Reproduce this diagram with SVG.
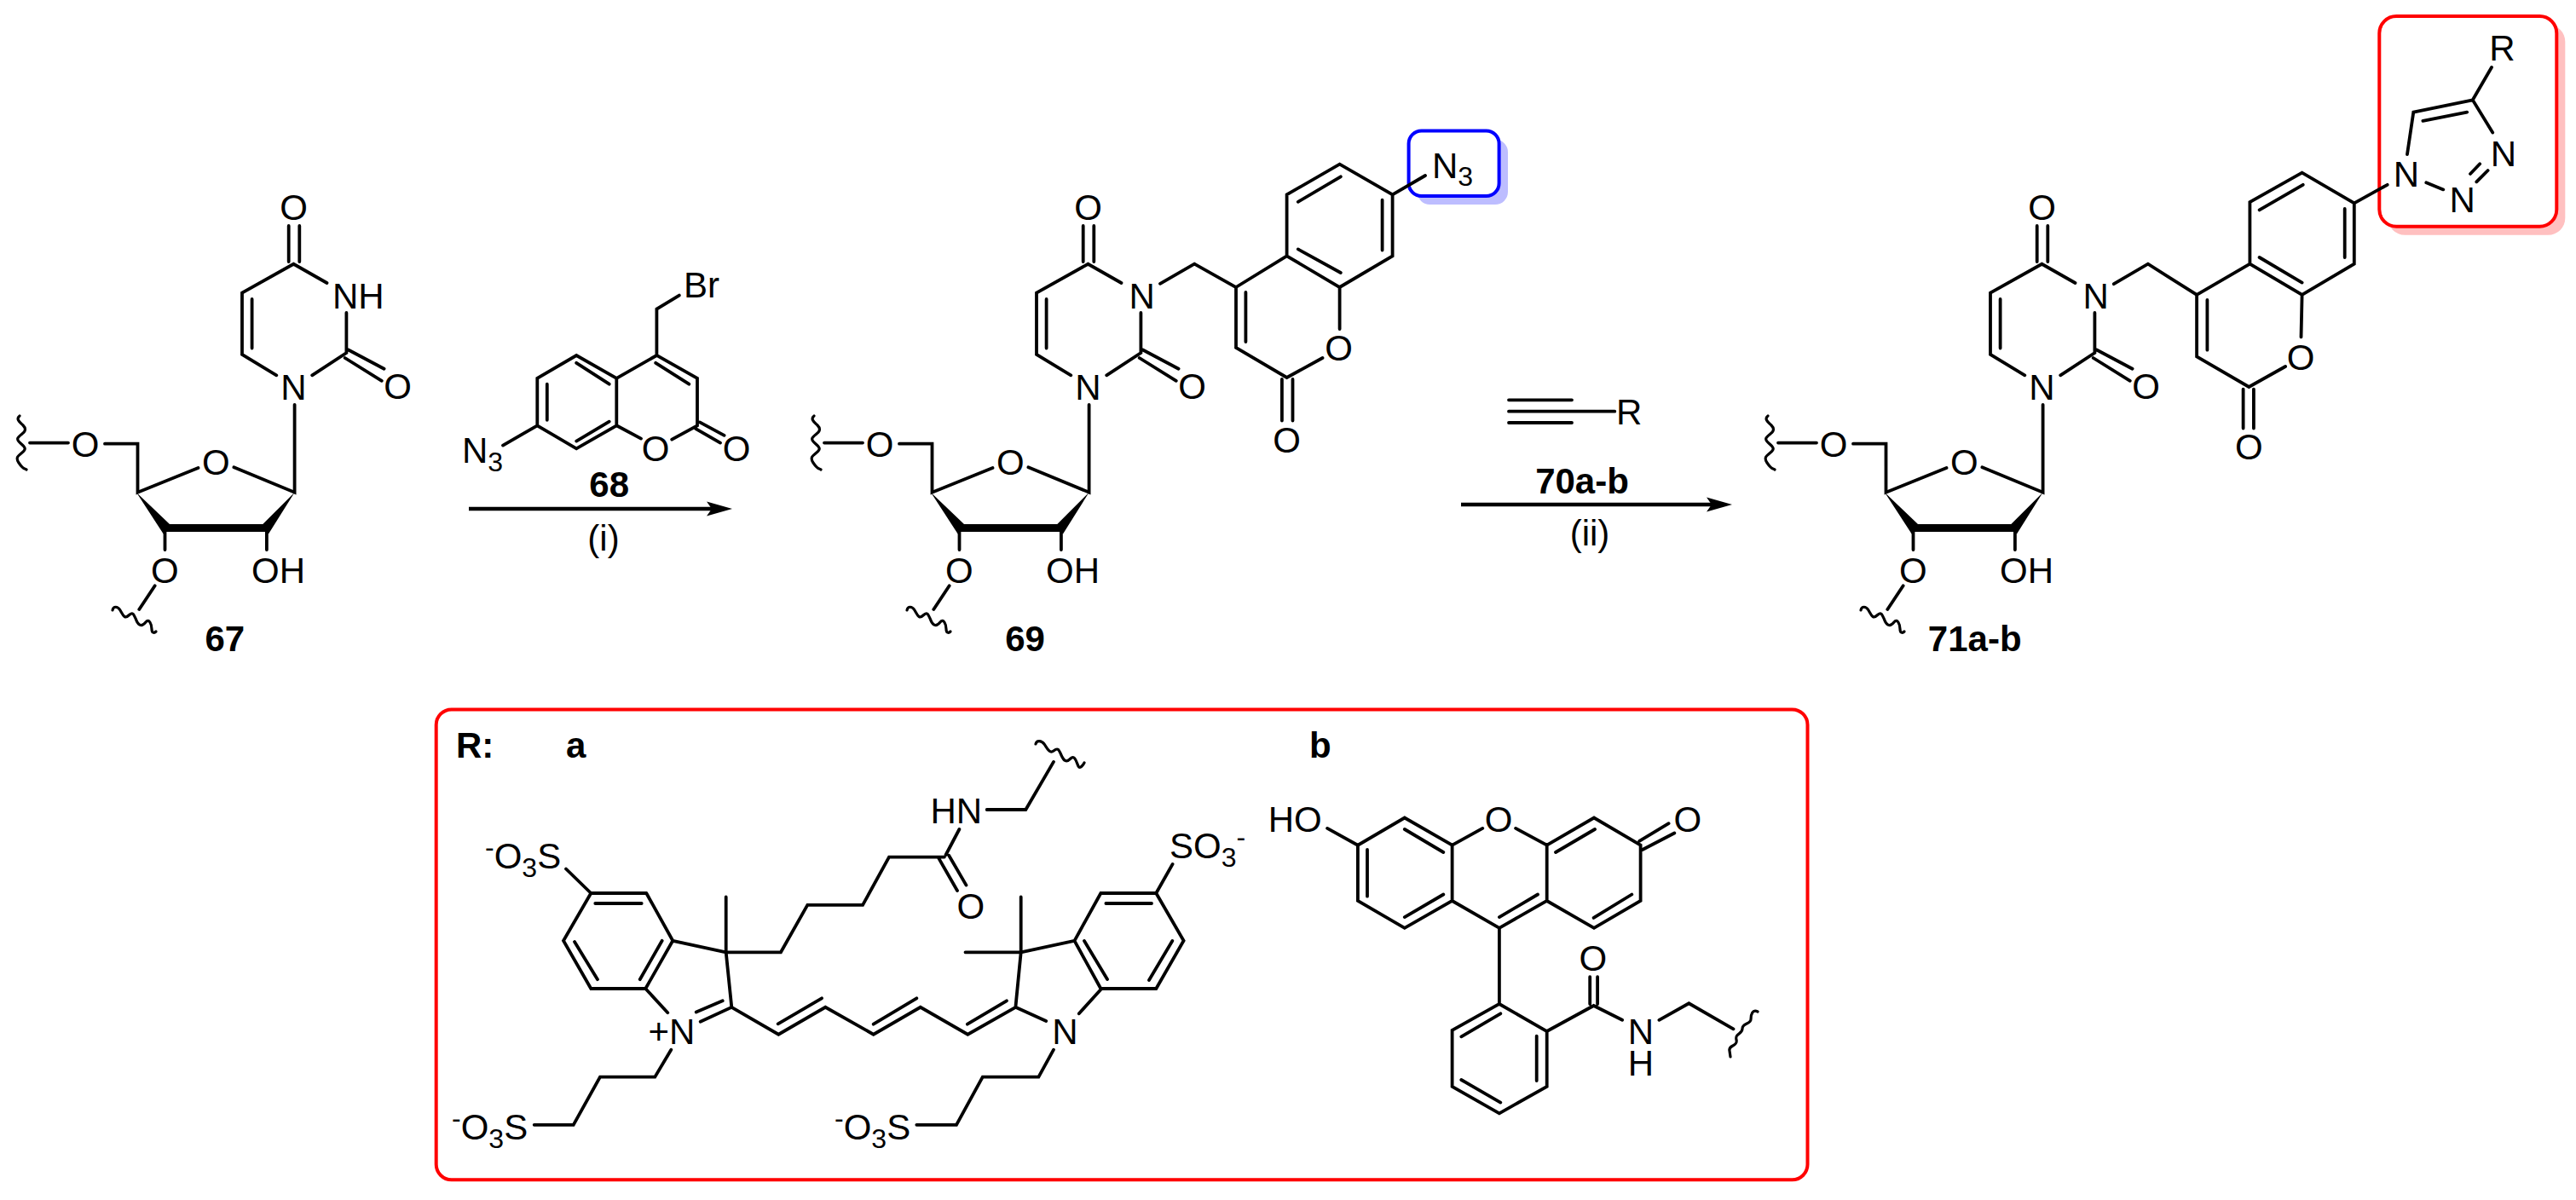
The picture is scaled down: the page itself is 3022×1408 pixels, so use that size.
<svg xmlns="http://www.w3.org/2000/svg" width="3022" height="1408" viewBox="0 0 3022 1408">
<style>
text{font-family:"Liberation Sans",Arial,sans-serif;font-size:42px;fill:#000}
.m{text-anchor:middle}
.b{font-weight:bold}
.s{font-size:32px}
.bond{fill:none;stroke:#000;stroke-width:3.8;stroke-linecap:round;stroke-linejoin:miter}
.wave{fill:none;stroke:#000;stroke-width:3.2;stroke-linecap:round;stroke-linejoin:round}
.solid{fill:#000;stroke:none}
.arrow{fill:none;stroke:#000;stroke-width:4.5}
.red{fill:none;stroke:#f00;stroke-width:4}
</style>
<defs>
<marker id="head" markerUnits="userSpaceOnUse" markerWidth="30" markerHeight="18" viewBox="0 0 30 18" refX="20" refY="9" orient="auto"><path d="M0 .5L30 9L0 17.5L6 9Z" fill="#000"/></marker>
<path id="nuc-bonds" class="bond" d="M338.7 265V307M351.3 265V307M383.5 332L344.4 309.8L284 343.5V416L324.3 440.3M295.6 351V408.6M366.2 440.3L406.4 414V367M408.7 410.5L450.6 432.7M404.7 420L447.8 446.8M345.6 474.8V577.7L274.4 548.3M232.5 549L161.5 577.7V520.7H123M35 519.6H80M193.5 623V645M312.9 623V645M181.7 687.3L163.3 715"/>
<path id="nuc-solid" class="solid" d="M160 577.7L199 615H308.3L345.6 577.7L315 626.5L312 624H195L191.7 626.5Z"/>
<path id="nuc-wave1" class="wave" d="M23 488C18 492 24 496 27 499S31 505 26 509S18 515 24 520S31 527 26 531S18 537 22 543S27 549 31 551"/>
<path id="nuc-wave2" class="wave" d="M132 716C133 711 138 711 141 716S146 727 151 722S157 721 160 728S167 735 171 730S178 733 178 738S181 743 183 741"/>
</defs>

<g id="compound-67">
<use href="#nuc-bonds"/><use href="#nuc-solid"/><use href="#nuc-wave1"/><use href="#nuc-wave2"/>
<text class="m" x="344.5" y="258">O</text>
<text x="390" y="361.5">NH</text>
<text class="m" x="344.5" y="469">N</text>
<text class="m" x="466.7" y="468">O</text>
<text class="m" x="253.3" y="557">O</text>
<text class="m" x="100" y="536">O</text>
<text class="m" x="193.3" y="683.5">O</text>
<text x="295" y="683.5">OH</text>
<text class="m b" x="263.8" y="764">67</text>
</g>

<g id="compound-68">
<path class="bond" d="M796.8 346.6L770.4 362.6V417L818 443.8V499.3L788.2 515.7M752 514.6L723.3 499.3V443.8L676.2 417L630.3 443.8V499.3L676.2 526.4L723.3 499.3M723.3 443.8L770.4 417M769.2 425.8L808.3 450.7M676.2 425.8L714.7 450.7M641.8 450.7V492.8M676.2 517.6L714.7 494.7M630.3 499.3L590 522.6M820.9 495.4L849.6 510.8M816.3 503.1L845 519.6"/>
<text x="802" y="349.3">Br</text>
<text x="542" y="542.5">N<tspan class="s" dy="10">3</tspan></text>
<text class="m" x="769.2" y="541.4">O</text>
<text class="m" x="864" y="541.4">O</text>
<text class="m b" x="714.7" y="582.7">68</text>
<text class="m" x="708" y="646">(i)</text>
</g>

<g id="compound-69">
<g transform="translate(932 0)">
<use href="#nuc-bonds"/><use href="#nuc-solid"/><use href="#nuc-wave1"/><use href="#nuc-wave2"/>
<text class="m" x="344.5" y="258">O</text>
<text class="m" x="407.7" y="361.5">N</text>
<text class="m" x="344.5" y="469">N</text>
<text class="m" x="466.7" y="468">O</text>
<text class="m" x="253.3" y="557">O</text>
<text class="m" x="100" y="536">O</text>
<text class="m" x="193.3" y="683.5">O</text>
<text x="295" y="683.5">OH</text>
<text class="m b" x="270.5" y="764">69</text>
</g>
<rect x="1662.6" y="163.5" width="106.4" height="76.6" rx="15" fill="#bdbdff"/>
<rect x="1652.6" y="153.5" width="106" height="76.6" rx="15" fill="#fff" stroke="#00f" stroke-width="4"/>
<path class="bond" d="M1361 332.8L1401.2 309.6L1450 337V408L1509.6 443L1551.5 420M1571.6 386V337L1509.6 300.4V228.4L1571.6 192.6L1633.6 228.4V300.4L1571.6 337M1509.6 300.4L1450 337M1461.4 343V401M1522.8 236.8L1572.8 207.3M1621.6 234.7V293.6M1522.8 292.4L1572.8 320M1503.9 445V493.5M1516.5 445V493.5M1633.6 228.4L1672 206"/>
<text x="1680" y="209.4">N<tspan class="s" dy="9">3</tspan></text>
<text class="m" x="1570.5" y="422.8">O</text>
<text class="m" x="1509.6" y="531.4">O</text>
</g>

<g id="compound-70">
<path class="bond" d="M1770 469.3H1844M1770 482.7H1894.3M1770 496H1844"/>
<text x="1896" y="498.3">R</text>
<text class="m b" x="1856" y="579.3">70a-b</text>
<text class="m" x="1865" y="640">(ii)</text>
</g>

<g id="compound-71">
<g transform="translate(2051 0)">
<use href="#nuc-bonds"/><use href="#nuc-solid"/><use href="#nuc-wave1"/><use href="#nuc-wave2"/>
<text class="m" x="344.5" y="258">O</text>
<text class="m" x="407.7" y="361.5">N</text>
<text class="m" x="344.5" y="469">N</text>
<text class="m" x="466.7" y="468">O</text>
<text class="m" x="253.3" y="557">O</text>
<text class="m" x="100" y="536">O</text>
<text class="m" x="193.3" y="683.5">O</text>
<text x="295" y="683.5">OH</text>
</g>
<text class="m b" x="2316.7" y="763.8">71a-b</text>
<rect x="2801.3" y="29" width="208" height="246.8" rx="20" fill="#ffc0c0"/>
<rect x="2791.3" y="19" width="208" height="246.8" rx="20" fill="#fff" stroke="#f00" stroke-width="4"/>
<path class="bond" d="M2479.8 333.2L2519.9 309.7L2577.1 345.9V418.4L2638.3 454L2681.1 430M2699.5 395.4L2700.6 345.9L2639.4 309.7V237.2L2700.6 202.6L2761.8 238.3V309.7L2700.6 345.9M2639.4 309.7L2577.1 345.9M2589.4 352V410.7M2650.6 246.4L2701.7 216.8M2750.7 245V302M2650.6 302L2700.6 331.6M2631.6 456.6V502.6M2643.9 456.6V502.6M2761.8 238.3L2800.7 216.8M2824 181L2831.3 131.6L2900.8 117.3L2924.2 155.6M2842.4 141.8L2894.2 131.6M2900.8 117.3L2923 79M2846.3 214.3L2866.3 222.4M2898 204L2909.2 192.3M2905.3 213.3L2918.6 200"/>
<text class="m" x="2823" y="219.4">N</text>
<text class="m" x="2888.6" y="248.5">N</text>
<text class="m" x="2937" y="194.9">N</text>
<text class="m" x="2935.3" y="71.4">R</text>
<text class="m" x="2699" y="433.7">O</text>
<text class="m" x="2638.3" y="539">O</text>
</g>

<g id="substituents">
<rect class="red" x="511.7" y="832.4" width="1608.8" height="551.9" rx="18"/>
<text class="b" x="535" y="888.6">R:</text>
<text class="b" x="664" y="888.6">a</text>
<text class="b" x="1536" y="888.6">b</text>
</g>

<g id="substituent-a">
<path class="bond" d="M758.3 1048H693.3L661 1103.8L693.3 1160H757.3L789.3 1103.8L758.3 1048M698.3 1060H752.7M674 1105L701 1149.2M776.7 1103.8L750.7 1149.2M664 1019.5L693.3 1048M789.3 1103.8L851.7 1117.3M851.7 1052.5V1117.3L858.3 1181.8M851.7 1117.3H916L947.3 1061.9H1012.1L1043 1005.6H1107.9M757.3 1160L783.3 1188.2M821.7 1198.7L858.3 1181.8L913.3 1213.7L968.3 1181.8L1024.7 1213.7L1079.8 1181.8L1135.3 1213.7L1191.4 1181.8M816.7 1187.5L847.7 1174.3M912.7 1201.3L964 1171.3M1024.7 1201.7L1075.3 1171.3M1134.9 1201.7L1180.9 1174.3M787.3 1231.7L768.3 1263.6H704L672.7 1319.8H626.7M1125.4 973L1109.6 1003M1100.9 1006.4L1123 1045M1113.2 1003.7L1133.5 1038.6M1157.7 950H1203.3L1236 893.9M1132.5 1117.3H1197.7M1197.7 1052.5V1117.3L1191.4 1181.8M1197.7 1117.3L1260.5 1103.8L1291.4 1048H1356.3L1388.6 1103.8L1356.3 1160H1291.4L1260.5 1103.8M1297.4 1060H1351M1375.3 1104L1348 1150M1272 1104L1299 1149M1356.3 1048L1375.6 1013.9M1191.4 1181.8L1227.2 1198M1291.4 1161L1265.8 1189.3M1236 1231.7L1218.4 1263.6H1152.8L1122 1319.8H1075.3"/>
<path class="wave" d="M1215 873C1216 868 1222 869 1225 873S1231 885 1236 881S1242 879 1245 886S1251 895 1256 890S1263 895 1265 899S1271 897 1272 895"/>
<text x="569" y="1018.7"><tspan class="s" dy="-14">-</tspan><tspan dy="14">O</tspan><tspan class="s" dy="10">3</tspan><tspan dy="-10">S</tspan></text>
<text x="530" y="1336.7"><tspan class="s" dy="-14">-</tspan><tspan dy="14">O</tspan><tspan class="s" dy="10">3</tspan><tspan dy="-10">S</tspan></text>
<text x="979" y="1336.7"><tspan class="s" dy="-14">-</tspan><tspan dy="14">O</tspan><tspan class="s" dy="10">3</tspan><tspan dy="-10">S</tspan></text>
<text x="1372" y="1006.7">SO<tspan class="s" dy="10">3</tspan><tspan class="s" dy="-24">-</tspan></text>
<text x="760.5" y="1225">+N</text>
<text class="m" x="1249.3" y="1225">N</text>
<text x="1091.5" y="966.2">HN</text>
<text class="m" x="1138.8" y="1077.6">O</text>
</g>

<g id="substituent-b">
<path class="bond" d="M1557.1 971.9L1592.9 991.7L1647.8 959.5L1703.6 991.7V1057L1647.8 1088.8L1592.9 1057V991.7M1604 997V1051.7M1647.8 973L1693.3 1000M1647.8 1076.1L1693.3 1049.5M1703.6 991.7L1739.3 971.9M1778.1 971.9L1814.7 991.7V1057L1758.9 1088.8L1703.6 1057M1758.9 1076.1L1804 1049.5M1814.7 991.7L1870 959.5L1924.6 991.7V1057L1870 1088.8L1814.7 1057M1825 1000L1871 973M1869.6 1076.9L1914.3 1049.5M1923.2 986.9L1957.6 966.2M1926.8 997L1964.3 977.5M1758.9 1088.8V1178L1703.6 1208.8V1274.8L1758.9 1306.3L1814.7 1274.8V1210L1758.9 1178M1714.3 1216.3L1760.3 1189.3M1802.7 1215.6V1268M1714.3 1267L1760.3 1293.6M1814.7 1210L1869.6 1180L1903.1 1196.8M1865.2 1146.2V1178M1874.1 1146.2V1178M1946.4 1196.8L1981.3 1177.3L2033.5 1207.3"/>
<path class="wave" d="M2062 1187C2056 1184 2054 1190 2054 1196S2044 1200 2044 1207S2035 1212 2037 1220S2027 1226 2029 1233L2030 1240"/>
<text x="1487.7" y="975.6">HO</text>
<text class="m" x="1758" y="975.6">O</text>
<text class="m" x="1979.9" y="975.6">O</text>
<text class="m" x="1868.8" y="1138.7">O</text>
<text class="m" x="1925" y="1225">N<tspan x="1925" dy="36.7">H</tspan></text>
</g>

<g id="connectors">
<line class="arrow" x1="550" y1="596.9" x2="849" y2="596.9" marker-end="url(#head)"/>
<line class="arrow" x1="1714" y1="592" x2="2022" y2="592" marker-end="url(#head)"/>
</g>
</svg>
